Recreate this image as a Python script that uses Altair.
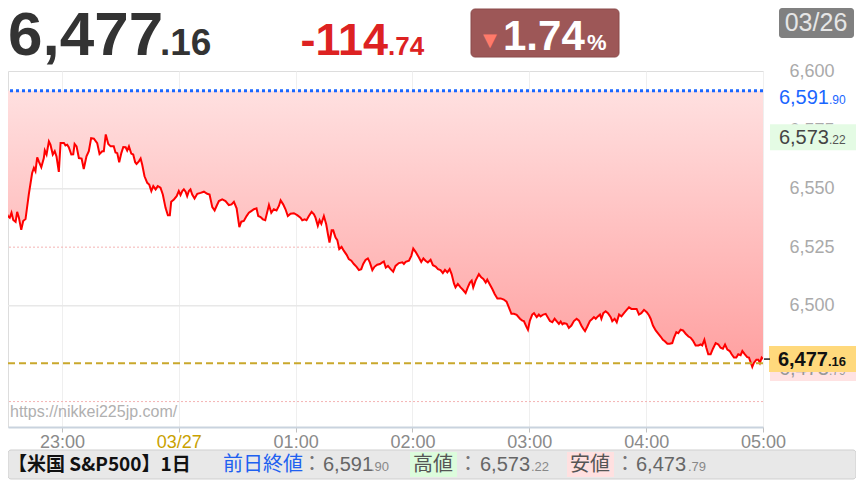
import altair as alt
import pandas as pd

# ---------------- headline values ----------------
last_price = 6477.16
change = -114.74
change_pct = -1.74
prev_close = 6591.90
day_high = 6573.22
day_low = 6473.79
date_label = "03/26"
market_title = "【米国 S&P500】1日"
site_url = "https://nikkei225jp.com/"
prev_label = "前日終値"
high_label = "高値"
low_label = "安値"

# ---------------- axes ----------------
y_ticks = [6475, 6500, 6525, 6550, 6575, 6600]
x_tick_minutes = [30, 90, 150, 210, 270, 330, 390]
x_tick_labels = ["23:00", "03/27", "01:00", "02:00", "03:00", "04:00", "05:00"]
gray_grid_values = [6550, 6500]
pink_dotted_values = [6525, 6459]
yellow_dashed_values = [6475.4]

# ---------------- price series (minutes after 22:30, price) ----------------
minutes = [
    0, 1.0, 2.2, 3.2, 4.1, 5.0, 6.2, 7.0, 7.9, 9.1, 10.1, 11.3, 13.0, 14.7, 15.6, 16.4, 17.3, 18.1, 19.4, 20.7,
    21.2, 22.1, 23.3, 24.1, 25.3, 26.3, 27.2, 28.4, 29.3, 31.0, 31.8, 32.7, 33.5, 34.8, 35.8, 36.5, 37.5, 38.7, 40.1, 41.2,
    42.6, 43.8, 45.0, 46.4, 48.1, 49.3, 50.7, 51.5, 52.5, 53.8, 55.0, 56.6, 57.5, 58.4, 59.4, 60.5, 61.5, 62.7, 63.5, 64.4,
    65.6, 66.6, 67.6,
    68.3, 69.5, 70.4, 71.2, 72.4, 73.8, 74.8, 75.9, 76.9, 78.1, 79.2, 80.6, 81.8, 83.2, 84.4, 85.4, 86.1, 87.5, 88.9, 90.0,
    90.9, 91.8, 92.6, 93.5, 94.3, 95.2, 96.0, 96.9, 98.1, 99.5, 101.2, 102.9, 104.6, 105.8, 107.2, 108.4, 109.4, 110.6, 112.3, 114.0,
    115.7, 117.1, 118.3, 119.7, 121.1, 122.1, 123.4, 124.8, 126.0, 127.2, 128.6, 129.9, 130.8, 132.0, 133.2, 134.4,
    136.3, 137.5, 138.8, 140.2, 141.4, 142.3, 143.6, 144.8, 146.0, 147.4, 149.1, 150.8, 152.5, 153.4, 154.7, 155.6, 156.8, 158.2, 159.4, 160.2,
    161.4, 162.3, 163.2, 164.5, 165.7, 166.6, 167.4, 168.5, 169.3, 170.5, 171.4, 172.4, 173.6, 174.8, 176.2, 177.3, 178.6, 179.9, 181.3, 182.5,
    183.7, 184.7, 185.9, 187.1, 188.1, 189.4, 190.5, 191.9, 193.3, 194.5, 195.3, 196.3, 197.4,
    198.8, 200.1, 201.3, 203.0, 204.8, 205.6, 206.5, 208.2, 209.4, 210.4, 211.6, 213.3, 214.5, 215.6, 216.7, 217.9, 219.3, 220.5, 221.9, 223.1,
    224.4, 225.6, 226.7, 227.9, 229.1, 230.1, 231.3, 232.1, 233.3, 234.7, 235.9, 237.3, 238.4, 239.5, 240.4, 241.2, 242.4, 244.1, 245.3, 246.4,
    247.6, 248.4, 249.6, 251.0, 252.2, 253.6, 255.3, 256.9, 258.3, 259.5, 260.8, 262.1, 263.5, 265.2, 266.4,
    267.2, 268.6, 269.3, 270.3, 271.5, 272.4, 273.8, 274.9, 275.8, 277.2, 278.4, 280.6, 281.8, 283.0, 284.0, 285.2, 286.1, 287.0, 287.8, 289.2,
    290.3, 291.6, 292.9, 294.3, 295.5, 296.7, 297.7, 298.6, 299.8, 301.1, 302.4, 303.2, 304.1, 305.2, 306.3, 307.0, 308.0, 309.2, 310.4, 311.8,
    312.6, 313.8, 314.9, 316.1, 317.3, 318.6, 320.0, 321.2, 322.4, 323.8, 325.1, 326.3, 327.5, 328.9, 330.3, 331.5,
    332.3, 333.5, 334.9, 336.2, 337.4, 338.6, 339.6, 340.9, 342.1, 343.4, 344.3, 345.5, 346.5, 347.7, 348.9, 350.3, 351.7, 352.8, 354.0, 355.4,
    356.8, 358.0, 358.8, 359.9, 360.9, 361.9, 363.1, 364.3, 365.7, 367.1, 368.2, 369.4, 370.5, 371.7, 372.9, 373.9, 375.1, 376.3, 377.3, 378.5,
    379.4, 380.7, 381.9, 382.8, 383.6, 384.5, 385.3, 386.6, 387.6, 388.4, 389.3, 390.0,
]
prices = [
    6538.3, 6540.9, 6538.3, 6537.6, 6539.7, 6536.6, 6535.8, 6540.1, 6537.6, 6532.4, 6536.2, 6537.0, 6547.7, 6556.7, 6558.9, 6557.5, 6563.4, 6561.7, 6559.2, 6563.1,
    6566.3, 6564.6, 6570.2, 6568.8, 6564.6, 6566.0, 6563.8, 6557.2, 6569.5, 6569.5, 6568.5, 6568.8, 6567.7, 6564.6, 6564.7, 6569.1, 6568.1, 6563.1, 6562.9, 6558.4,
    6563.8, 6566.0, 6571.6, 6571.4, 6569.5, 6564.8, 6566.0, 6566.0, 6573.2, 6569.1, 6568.1, 6568.1, 6565.5, 6565.2, 6561.3, 6565.2, 6567.8, 6567.7, 6566.3, 6568.1,
    6565.0, 6564.6, 6561.3,
    6560.6, 6561.7, 6562.9, 6560.3, 6555.3, 6552.5, 6551.8, 6549.0, 6551.1, 6549.7, 6551.1, 6550.4, 6547.5, 6541.8, 6538.6, 6538.6, 6544.4, 6545.4, 6546.8, 6549.0,
    6547.3, 6549.0, 6549.7, 6548.7, 6546.8, 6549.0, 6549.7, 6547.5, 6545.8, 6547.8, 6548.2, 6548.7, 6547.8, 6547.5, 6542.1, 6540.7, 6542.6, 6544.7, 6545.4, 6544.7,
    6543.0, 6543.3, 6544.4, 6541.6, 6533.6, 6535.9, 6536.2, 6538.3, 6539.7, 6540.4, 6541.2, 6541.6, 6538.3, 6537.9, 6536.9, 6536.5,
    6543.0, 6539.7, 6541.2, 6540.7, 6542.6, 6545.0, 6543.3, 6541.2, 6538.3, 6539.3, 6539.5, 6538.7, 6537.6, 6536.5, 6536.9, 6536.5, 6538.3, 6540.1, 6539.0, 6537.6,
    6534.1, 6536.5, 6535.0, 6538.3, 6534.8, 6530.5, 6527.0, 6532.2, 6532.2, 6529.1, 6528.0, 6524.2, 6525.1, 6523.4, 6521.7, 6519.9, 6519.2, 6517.8, 6516.6, 6515.2,
    6515.6, 6517.8, 6519.5, 6520.2, 6518.5, 6515.2, 6516.6, 6517.5, 6517.8, 6518.5, 6518.9, 6516.3, 6517.0,
    6515.6, 6514.5, 6517.0, 6518.2, 6518.5, 6517.8, 6518.7, 6519.2, 6521.3, 6524.4, 6523.0, 6520.6, 6518.7, 6520.2, 6519.2, 6518.5, 6519.6, 6517.3, 6516.7, 6515.6,
    6515.2, 6513.9, 6515.3, 6514.2, 6515.6, 6513.5, 6509.5, 6507.8, 6509.3, 6507.8, 6506.8, 6505.4, 6507.8, 6509.9, 6510.7, 6507.8, 6510.7, 6513.5, 6512.1, 6511.4,
    6509.9, 6511.1, 6509.3, 6507.1, 6505.0, 6503.1, 6503.1, 6502.6, 6501.7, 6499.3, 6496.5, 6496.5, 6496.1, 6494.4, 6493.6,
    6493.4, 6490.8, 6489.7, 6493.6, 6496.2, 6496.8, 6495.1, 6496.2, 6495.4, 6496.2, 6496.5, 6493.4, 6492.9, 6494.4, 6493.4, 6492.2, 6493.2, 6492.0, 6492.5, 6492.2,
    6490.5, 6491.5, 6493.4, 6494.4, 6493.6, 6491.5, 6490.1, 6489.1, 6491.1, 6493.4, 6494.4, 6495.1, 6494.4, 6495.4, 6496.2, 6494.4, 6496.8, 6497.6, 6496.8, 6495.1,
    6493.4, 6494.4, 6492.9, 6496.2, 6495.4, 6496.8, 6498.2, 6499.3, 6498.6, 6498.6, 6498.6, 6496.2, 6496.8, 6498.2, 6497.2, 6495.8,
    6494.4, 6491.5, 6489.4, 6488.0, 6486.8, 6485.4, 6484.8, 6483.7, 6483.7, 6484.0, 6486.3, 6488.7, 6488.2, 6489.7, 6489.4, 6488.0, 6486.8, 6486.3, 6485.1, 6483.0,
    6483.0, 6483.4, 6483.0, 6485.4, 6482.0, 6479.2, 6479.2, 6481.6, 6484.0, 6483.4, 6482.0, 6481.6, 6483.4, 6481.2, 6480.6, 6479.2, 6477.8, 6477.8, 6479.2, 6478.8,
    6480.6, 6479.2, 6478.0, 6477.8, 6475.9, 6473.79, 6475.5, 6476.9, 6476.9, 6475.5, 6477.8, 6477.16,
]

FONT = "Liberation Sans"
CJK = "Noto Sans CJK JP"
W, H = 755, 356
TOTAL_W, TOTAL_H = 848, 472


def split_num(v):
    s = f"{abs(v):,.2f}"
    ip, dp = s.split(".")
    return ip, "." + dp


xs = alt.Scale(domain=[2.3, 390], nice=False, zero=False)
ys = alt.Scale(domain=[6448.13, 6600.3], nice=False, zero=False)

df = pd.DataFrame({"m": minutes, "p": prices})
base = alt.Chart(df)

label_expr = "[" + ",".join(f"'{s}'" for s in x_tick_labels) + "][indexof([" + \
    ",".join(str(m) for m in x_tick_minutes) + "], datum.value)]"

x_enc = alt.X(
    "m:Q", scale=xs,
    axis=alt.Axis(
        values=x_tick_minutes, labelExpr=label_expr, title=None, grid=True,
        gridColor="#efefef", domainColor="#c9d3de", domainWidth=2,
        tickColor="#c0c0c0", tickSize=5, labelFontSize=18, labelPadding=1,
        labelFont=FONT, labelFlush=False, labelOverlap=False,
        labelColor=alt.condition("datum.value == 90", alt.value("#c9a100"), alt.value("#8a8a8a")),
    ),
)
Y_AXIS = alt.Axis(
    orient="right", values=y_ticks, format=",d", title=None, grid=False,
    domain=False, ticks=False, labelPadding=26, labelFontSize=18,
    labelColor="#aaaaaa", labelFont=FONT, labelOverlap=False, labelFlush=False,
)


def yv(field="v"):
    return alt.Y(f"{field}:Q", scale=ys, axis=Y_AXIS)


def hrules(values, **kw):
    return alt.Chart(pd.DataFrame({"v": values})).mark_rule(**kw).encode(y=yv())


def text_at(s, x, y, size, color, weight="normal", align="left", font=FONT, baseline="alphabetic"):
    return alt.Chart(pd.DataFrame({"t": [s]})).mark_text(
        align=align, baseline=baseline, fontSize=size, color=color,
        fontWeight=weight, font=font,
    ).encode(text="t:N", x=alt.value(x), y=alt.value(y))


def box_at(x1, x2, y1, y2, fill, stroke=None, radius=0):
    kw = dict(fill=fill, cornerRadius=radius)
    if stroke:
        kw.update(stroke=stroke, strokeWidth=1)
    return alt.Chart(pd.DataFrame({"a": [0]})).mark_rect(**kw).encode(
        x=alt.value(x1), x2=alt.value(x2), y=alt.value(y1), y2=alt.value(y2))


def value_box(v, x1, x2, off1, off2, fill, stroke=None):
    kw = dict(fill=fill, yOffset=off1, y2Offset=off2)
    if stroke:
        kw.update(stroke=stroke, strokeWidth=1)
    return alt.Chart(pd.DataFrame({"v": [v]})).mark_rect(**kw).encode(
        x=alt.value(x1), x2=alt.value(x2), y=yv(), y2=alt.Y2("v"))


def value_text(v, s, x, size, color, weight="normal", align="left", dy=0):
    return alt.Chart(pd.DataFrame({"v": [v], "t": [s]})).mark_text(
        align=align, baseline="alphabetic", fontSize=size, color=color,
        fontWeight=weight, font=FONT, dy=dy,
    ).encode(x=alt.value(x), y=yv(), text="t:N")


gradient = alt.Gradient(
    gradient="linear",
    stops=[alt.GradientStop(color="#ffe0e0", offset=0),
           alt.GradientStop(color="#ffa0a0", offset=1)],
    x1=0, x2=0, y1=0, y2=1,
)

layers = []
layers.append(hrules(gray_grid_values, color="#e8e8e8", strokeWidth=1.5))
layers.append(hrules(pink_dotted_values, color="#f4b4b4", strokeWidth=1, strokeDash=[2, 2]))
layers.append(base.mark_area(color=gradient, clip=True).encode(
    x=x_enc, y=yv("p"), y2=alt.datum(prev_close)))
layers.append(hrules([prev_close], color="#1a66ff", strokeWidth=3, strokeDash=[3, 3]))
layers.append(base.mark_line(color="#ff0000", strokeWidth=2, clip=True).encode(x=x_enc, y=yv("p")))
layers.append(hrules(yellow_dashed_values, color="#c9a82c", strokeWidth=2, strokeDash=[7, 4]))

# watermark
layers.append(text_at(site_url, 2, 346, 16, "#b0b0b0"))

# right-hand price labels
RX2 = TOTAL_W
ip, dp = split_num(prev_close)
layers.append(value_text(prev_close, ip, 821, 20, "#1a66ff", align="right", dy=13))
layers.append(value_text(prev_close, dp, 821, 12, "#1a66ff", align="left", dy=13))

ip, dp = split_num(day_high)
layers.append(value_box(day_high, 762, RX2, -10, 16, "#e4fbe4"))
layers.append(value_text(day_high, ip, 821, 20, "#444444", align="right", dy=10))
layers.append(value_text(day_high, dp, 821, 12, "#555555", align="left", dy=10))

ip, dp = split_num(day_low)
layers.append(value_box(day_low, 762, RX2, -12, 14, "#ffe2e2"))
layers.append(value_text(day_low, ip, 821, 20, "#999999", align="right", dy=8))
layers.append(value_text(day_low, dp, 821, 12, "#999999", align="left", dy=8))

ip, dp = split_num(last_price)
layers.append(value_box(last_price, 761, RX2, -13, 13, "#ffd97c"))
layers.append(value_text(last_price, ip, 820, 20, "#111111", weight="bold", align="right", dy=7))
layers.append(value_text(last_price, dp, 820, 13, "#111111", weight="bold", align="left", dy=7))
layers.append(alt.Chart(pd.DataFrame({"v": [last_price]})).mark_rule(color="#222222", strokeWidth=1.5).encode(
    x=alt.value(756), x2=alt.value(762), y=yv()))

# header
ip, dp = split_num(last_price)
layers.append(text_at(ip, 0, -16, 62, "#333333", weight="bold"))
layers.append(text_at(dp, 152, -16, 37, "#333333", weight="bold"))
ip, dp = split_num(change)
sign = "-" if change < 0 else "+"
layers.append(text_at(sign + ip, 380, -16, 45, "#dd2222", weight="bold", align="right"))
layers.append(text_at(dp, 380, -16, 26, "#dd2222", weight="bold"))
layers.append(box_at(463, 611, -62, -14, "#9d5757", stroke="#8a4a4a", radius=4))
layers.append(text_at("▼", 475, -25, 18, "#ff7a6a", font="DejaVu Sans"))
pct_ip, pct_dp = f"{abs(change_pct):.2f}", "%"
layers.append(text_at(pct_ip, 495, -21, 42, "#ffffff", weight="bold"))
layers.append(text_at(pct_dp, 579, -21, 22, "#ffffff", weight="bold"))
layers.append(box_at(771, 846, -63, -33, "#808080", radius=3))
layers.append(text_at(date_label, 808, -40, 25, "#e6e6e6", align="center"))

# bottom info bar
BY = 400
layers.append(box_at(0, TOTAL_W, 379, 408, "#e8e8e8", stroke="#cfcfcf", radius=3))
layers.append(text_at(market_title, 0, BY, 19, "#111111", weight="bold", font=CJK))
layers.append(text_at(prev_label, 215, BY, 20, "#2060f0", font=CJK))
layers.append(text_at("：", 294, BY, 20, "#777777", font=CJK))
ip, dp = split_num(prev_close)
layers.append(text_at(ip, 315, BY, 20, "#666666"))
layers.append(text_at(dp, 363, BY, 13, "#888888"))
layers.append(box_at(402, 449, 381, 406, "#dcfcdc"))
layers.append(text_at(high_label, 405, BY, 20, "#555555", font=CJK))
layers.append(text_at("：", 450, BY, 20, "#777777", font=CJK))
ip, dp = split_num(day_high)
layers.append(text_at(ip, 472, BY, 20, "#666666"))
layers.append(text_at(dp, 523, BY, 13, "#888888"))
layers.append(box_at(559, 606, 381, 406, "#ffe0e0"))
layers.append(text_at(low_label, 562, BY, 20, "#555555", font=CJK))
layers.append(text_at("：", 607, BY, 20, "#777777", font=CJK))
ip, dp = split_num(day_low)
layers.append(text_at(ip, 628, BY, 20, "#666666"))
layers.append(text_at(dp, 680, BY, 13, "#888888"))

chart = alt.layer(*layers).properties(
    width=W, height=H,
    autosize=alt.AutoSizeParams(type="none"),
    padding={"left": 0, "top": 63, "right": TOTAL_W - W, "bottom": TOTAL_H - 63 - H},
).configure_view(stroke="#dedede", strokeWidth=1).configure(font=FONT, background="white")

chart.save("out.html", embed_options={"renderer": "svg", "actions": False})
